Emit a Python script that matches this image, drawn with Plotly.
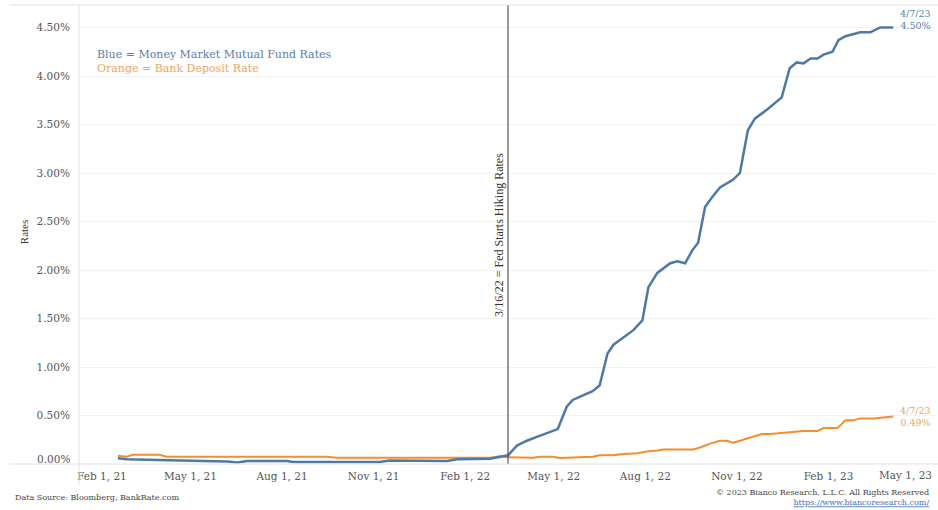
import plotly.graph_objects as go

# ---- data ----
mmf_dates = ["2021-02-17", "2021-02-26", "2021-04-20", "2021-06-07", "2021-06-17", "2021-06-27",
             "2021-08-06", "2021-08-12", "2021-11-07", "2021-11-17", "2022-01-14", "2022-01-24",
             "2022-02-26", "2022-03-11", "2022-03-16", "2022-03-25", "2022-04-04", "2022-04-14",
             "2022-04-27", "2022-05-05", "2022-05-14", "2022-05-20", "2022-06-09", "2022-06-16",
             "2022-06-24", "2022-06-30", "2022-07-20", "2022-07-29", "2022-08-04", "2022-08-13",
             "2022-08-26", "2022-09-02", "2022-09-10", "2022-09-17", "2022-09-23", "2022-09-30",
             "2022-10-07", "2022-10-15", "2022-10-28", "2022-11-04", "2022-11-12", "2022-11-19",
             "2022-12-02", "2022-12-09", "2022-12-16", "2022-12-24", "2022-12-31", "2023-01-07",
             "2023-01-14", "2023-01-21", "2023-01-27", "2023-02-05", "2023-02-11", "2023-02-18",
             "2023-02-26", "2023-03-05", "2023-03-15", "2023-03-25", "2023-04-07"]
mmf_rates = [0.06, 0.05, 0.035, 0.025, 0.015, 0.03,
             0.03, 0.02, 0.02, 0.035, 0.03, 0.05,
             0.055, 0.075, 0.09, 0.19, 0.24, 0.28,
             0.33, 0.36, 0.59, 0.66, 0.75, 0.81,
             1.14, 1.23, 1.38, 1.48, 1.82, 1.97,
             2.07, 2.09, 2.07, 2.20, 2.28, 2.65,
             2.75, 2.85, 2.93, 3.00, 3.44, 3.56,
             3.66, 3.72, 3.78, 4.08, 4.14, 4.13,
             4.18, 4.18, 4.22, 4.25, 4.37, 4.41,
             4.43, 4.45, 4.45, 4.50, 4.50]

dep_dates = ["2021-02-17", "2021-02-26", "2021-03-04", "2021-03-31", "2021-04-07", "2021-09-15",
             "2021-09-25", "2022-02-26", "2022-03-08", "2022-03-15", "2022-04-10", "2022-04-17",
             "2022-04-30", "2022-05-07", "2022-06-09", "2022-06-16", "2022-06-30", "2022-07-07",
             "2022-07-24", "2022-08-03", "2022-08-13", "2022-08-19", "2022-09-18", "2022-09-25",
             "2022-10-05", "2022-10-15", "2022-10-22", "2022-10-28", "2022-11-04", "2022-11-14",
             "2022-11-26", "2022-12-04", "2022-12-17", "2022-12-27", "2023-01-07", "2023-01-21",
             "2023-01-27", "2023-02-10", "2023-02-13", "2023-02-18", "2023-02-26", "2023-03-05",
             "2023-03-18", "2023-04-07"]
dep_rates = [0.085, 0.075, 0.095, 0.095, 0.075, 0.075,
             0.065, 0.065, 0.08, 0.07, 0.065, 0.075,
             0.075, 0.062, 0.075, 0.09, 0.09, 0.10,
             0.11, 0.13, 0.14, 0.15, 0.15, 0.17,
             0.21, 0.24, 0.24, 0.22, 0.24, 0.27,
             0.31, 0.31, 0.32, 0.33, 0.34, 0.34,
             0.37, 0.37, 0.40, 0.45, 0.45, 0.47,
             0.47, 0.49]

x_tick_vals = ["2021-02-01", "2021-05-01", "2021-08-01", "2021-11-01", "2022-02-01",
               "2022-05-01", "2022-08-01", "2022-11-01", "2023-02-01"]
x_tick_text = ["Feb 1, 21", "May 1, 21", "Aug 1, 21", "Nov 1, 21", "Feb 1, 22",
               "May 1, 22", "Aug 1, 22", "Nov 1, 22", "Feb 1, 23"]
last_tick_val = "2023-05-01"
last_tick_text = "May 1, 23"
y_tick_vals = [0.5, 1.0, 1.5, 2.0, 2.5, 3.0, 3.5, 4.0, 4.5]
y_tick_text = ["0.50%", "1.00%", "1.50%", "2.00%", "2.50%", "3.00%", "3.50%", "4.00%", "4.50%"]
zero_label = "0.00%"
fed_date = "2022-03-16"

BLUE = "#4e79a7"
ORANGE = "#f28e2b"
SERIF = "DejaVu Serif"
TIMES = "Liberation Serif"

fig = go.Figure()
fig.add_trace(go.Scatter(x=dep_dates, y=dep_rates, mode="lines",
                         line=dict(color=ORANGE, width=2), hoverinfo="skip"))
fig.add_trace(go.Scatter(x=mmf_dates, y=mmf_rates, mode="lines",
                         line=dict(color=BLUE, width=2.5), hoverinfo="skip"))

# Fed line
fig.add_shape(type="line", xref="x", yref="paper", x0=fed_date, x1=fed_date, y0=0, y1=1,
              line=dict(color="#555555", width=1.2))
# frame lines (Tableau style)
fig.add_shape(type="line", xref="paper", yref="paper", x0=-0.081, x1=1.01, y0=1, y1=1,
              line=dict(color="#e3e3e3", width=1))
fig.add_shape(type="line", xref="paper", yref="paper", x0=-0.081, x1=1.01, y0=0, y1=0,
              line=dict(color="#e3e3e3", width=1))
fig.add_shape(type="line", xref="paper", yref="paper", x0=0, x1=0, y0=-0.046, y1=1,
              line=dict(color="#e3e3e3", width=1))

ann = []
ann.append(dict(text="<span style='color:#5a7ea8'>Blue = Money Market Mutual Fund Rates</span><br>"
                     "<span style='color:#eda55e'>Orange = Bank Deposit Rate</span>",
                xref="paper", yref="paper", x=0.0187, y=0.877, xanchor="left", yanchor="middle",
                align="left", showarrow=False,
                font=dict(family=SERIF, size=11, color="#5a7ea8")))
ann.append(dict(text="3/16/22 = Fed Starts Hiking Rates", xref="x", yref="paper",
                x=fed_date, y=0.499, xshift=-9, textangle=-90, showarrow=False,
                xanchor="center", yanchor="middle",
                font=dict(family=TIMES, size=12, color="#333333")))
ann.append(dict(text="Rates", xref="paper", yref="paper", x=-0.0643, y=0.505,
                textangle=-90, showarrow=False, xanchor="center", yanchor="middle",
                font=dict(family=TIMES, size=11, color="#333333")))
ann.append(dict(text=zero_label, xref="paper", yref="y", x=-0.0082, y=0, yshift=5,
                xanchor="right", yanchor="middle", showarrow=False,
                font=dict(family=SERIF, size=10.5, color="#555555")))
ann.append(dict(text=last_tick_text, xref="x", yref="paper", x=last_tick_val, y=-0.024,
                xshift=-12, xanchor="center", yanchor="middle", showarrow=False,
                font=dict(family=SERIF, size=10.5, color="#555555")))
ann.append(dict(text="4/7/23<br>4.50%", xref="paper", yref="y", x=0.9977, y=4.58,
                xanchor="right", yanchor="middle", align="right", showarrow=False,
                font=dict(family=SERIF, size=9.5, color="#5a7ea8")))
ann.append(dict(text="4/7/23<br>0.49%", xref="paper", yref="y", x=0.9977, y=0.49,
                xanchor="right", yanchor="middle", align="right", showarrow=False,
                font=dict(family=SERIF, size=9.5, color="#eda55e")))
ann.append(dict(text="Data Source: Bloomberg, BankRate.com", xref="paper", yref="paper",
                x=-0.0771, y=-0.0719, xanchor="left", yanchor="middle", showarrow=False,
                font=dict(family=SERIF, size=8, color="#444444")))
ann.append(dict(text="© 2023 Bianco Research, L.L.C. All Rights Reserved<br>"
                     "<span style='color:#3a6db5'><u>https://www.biancoresearch.com/</u></span>",
                xref="paper", yref="paper", x=0.9953, y=-0.074, xanchor="right",
                yanchor="middle", align="right",
                showarrow=False, font=dict(family=SERIF, size=8, color="#444444")))

fig.update_layout(
    width=938, height=510,
    margin=dict(l=79, r=3, t=5, b=46),
    paper_bgcolor="white", plot_bgcolor="white",
    showlegend=False,
    annotations=ann,
    xaxis=dict(range=["2021-01-09", "2023-05-19"], type="date",
               tickvals=x_tick_vals, ticktext=x_tick_text,
               showgrid=False, zeroline=False, showline=False,
               ticks="outside", ticklen=2, tickcolor="rgba(0,0,0,0)",
               tickfont=dict(family=SERIF, size=10.5, color="#555555")),
    yaxis=dict(range=[0, 4.732], tickvals=y_tick_vals, ticktext=y_tick_text,
               showgrid=True, gridcolor="#f2f2f2", gridwidth=1,
               zeroline=False, showline=False,
               ticks="outside", ticklen=6, tickcolor="rgba(0,0,0,0)",
               tickfont=dict(family=SERIF, size=10.5, color="#555555")),
)

fig.write_html("out.html")
